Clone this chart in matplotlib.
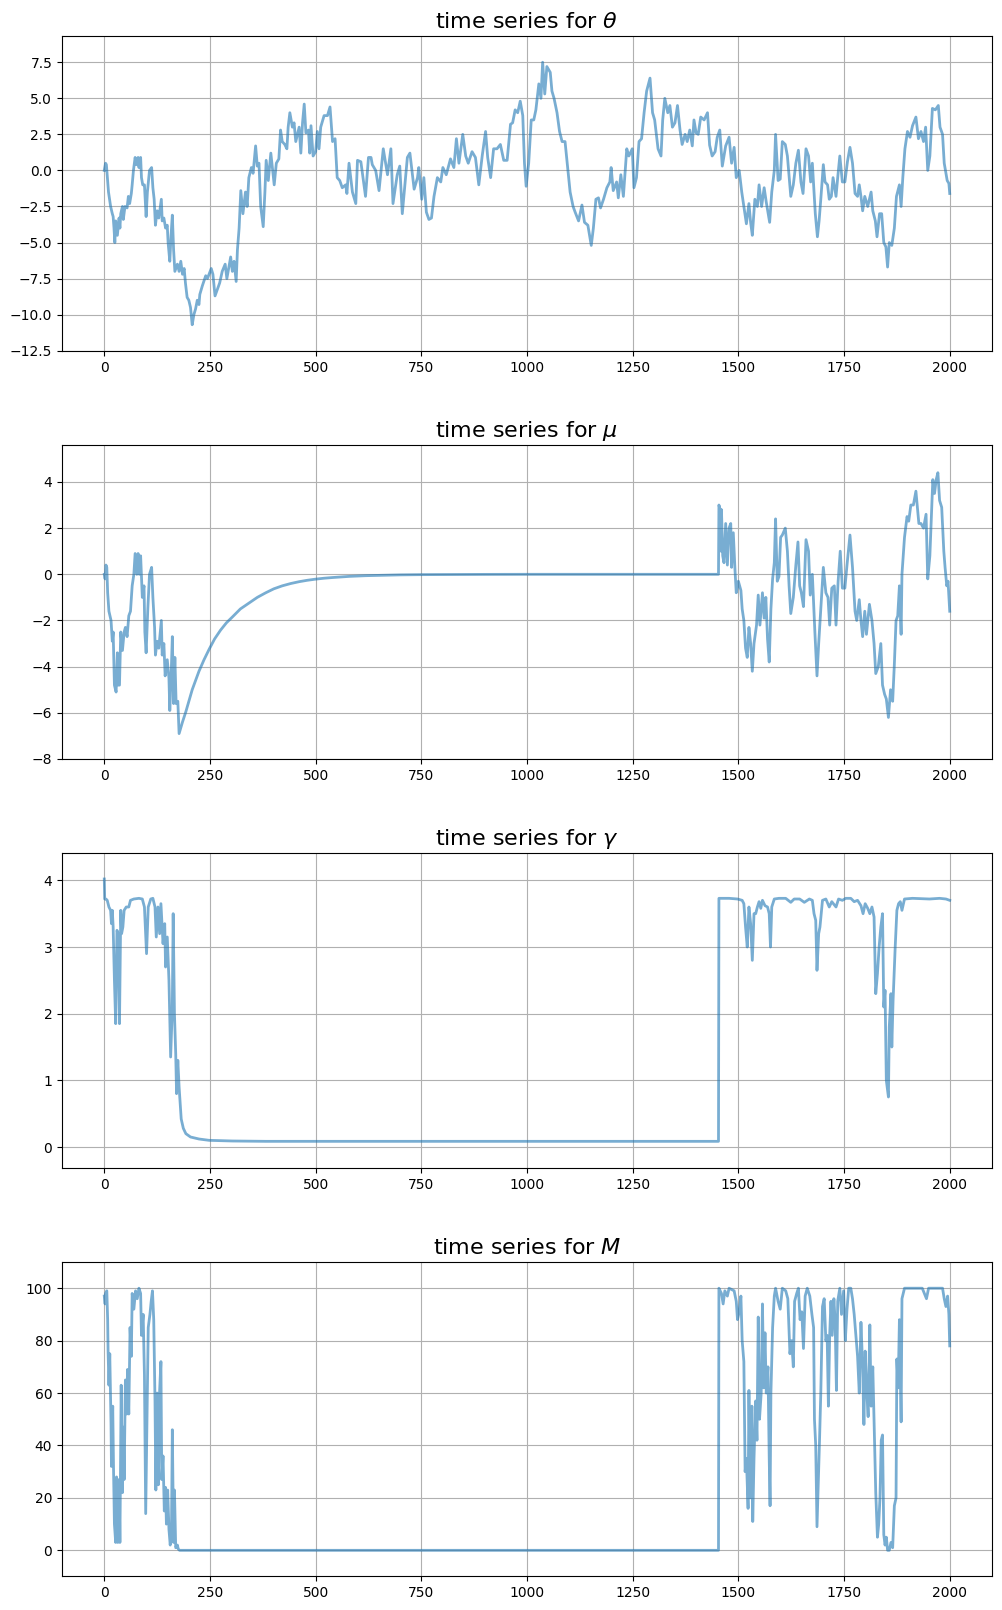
import numpy as np
import matplotlib
matplotlib.use("Agg")
import matplotlib.pyplot as plt

# %% values, as (step, value) pairs
theta_pts = [
    (0, 0), (3, 0.5), (5, 0.4), (10, -1.5), (15, -2.5), (19, -3.0), (21, -3.2), (23, -4.0),
    (25, -5.0), (27, -3.5), (31, -4.5), (35, -3.3), (37, -4.0), (39, -3.0), (43, -2.5),
    (45, -3.4), (49, -2.5), (54, -2.6), (57, -1.8), (60, -2.3), (64, -1.6), (66, -1.0),
    (69, 0.0), (73, 0.9), (76, 0.4), (80, 0.9), (82, 0.2), (86, 0.9), (88, -0.5), (91, -1.0),
    (95, -1.0), (99, -3.2), (102, -1.5), (107, 0.0), (112, 0.2), (115, -1.2), (118, -2.0),
    (121, -3.8), (125, -2.8), (129, -3.3), (135, -2.0), (137, -3.5), (141, -3.3), (145, -4.0),
    (149, -3.8), (151, -5.0), (155, -6.3), (158, -4.5), (161, -3.1), (164, -5.5), (167, -7.0),
    (173, -6.5), (177, -7.0), (181, -6.3), (185, -7.2), (189, -6.8), (192, -7.8), (196, -8.8),
    (200, -9.0), (204, -9.5), (208, -10.7), (212, -10.0), (216, -9.6), (220, -9.0), (224, -9.3),
    (226, -8.6), (232, -8.0), (240, -7.3), (244, -7.5), (253, -6.8), (257, -7.2), (262, -8.7),
    (268, -8.2), (273, -7.8), (279, -7.0), (286, -6.5), (290, -7.5), (299, -6.0), (303, -7.0),
    (307, -6.3), (312, -7.7), (315, -5.5), (319, -4.0), (323, -1.4), (328, -3.0), (334, -1.5),
    (338, -2.5), (342, -0.5), (348, 0.2), (352, -0.2), (358, 1.7), (362, 0.3), (366, 0.5),
    (370, -2.5), (376, -3.9), (380, -1.5), (383, 0.7), (388, -0.7), (394, 1.2), (402, -1.0),
    (407, 0.5), (413, 0.8), (417, 2.8), (421, 2.0), (427, 1.8), (432, 1.5), (435, 3.0),
    (439, 4.0), (445, 3.0), (449, 3.3), (453, 2.0), (461, 3.0), (465, 1.2), (469, 3.3),
    (473, 4.6), (477, 2.6), (483, 2.8), (486, 1.2), (489, 3.1), (494, 1.0), (500, 1.3),
    (504, 2.7), (508, 1.5), (512, 3.0), (520, 3.8), (528, 3.8), (534, 4.4), (540, 2.0),
    (546, 2.2), (551, -0.5), (557, -0.7), (563, -1.2), (571, -1.0), (574, -1.6), (579, 0.5),
    (587, -1.5), (595, -2.3), (599, 0.7), (607, 0.6), (618, -1.8), (625, 0.9), (631, 0.9),
    (634, 0.4), (642, 0.0), (650, -1.4), (660, 1.5), (670, -0.3), (678, 1.5), (683, -2.3),
    (693, -0.3), (699, 0.3), (705, -3.0), (717, 0.9), (723, 1.2), (733, -1.3), (741, -0.5),
    (744, 0.2), (751, -2.0), (756, -0.5), (762, -2.9), (768, -3.4), (774, -3.3), (780, -1.8),
    (788, -0.5), (796, -0.8), (801, 0.2), (809, -0.3), (819, 0.8), (827, 0.2), (833, 2.2),
    (839, 0.5), (848, 2.5), (855, 1.0), (861, 0.5), (870, 1.3), (878, 0.9), (886, -1.0),
    (894, 1.0), (902, 2.7), (907, 0.9), (914, -0.5), (921, 1.5), (929, 1.5), (937, 1.8),
    (945, 0.7), (953, 0.7), (961, 3.2), (966, 3.3), (972, 4.2), (978, 4.0), (984, 4.8),
    (990, 3.8), (994, 0.5), (998, -1.1), (1004, 0.5), (1010, 3.5), (1016, 3.5), (1021, 4.2),
    (1028, 6.0), (1033, 5.0), (1037, 7.5), (1042, 5.3), (1047, 7.2), (1055, 6.8), (1059, 5.5),
    (1064, 5.0), (1071, 4.0), (1077, 2.7), (1083, 2.0), (1090, 2.0), (1097, 0.0), (1102, -1.5),
    (1109, -2.5), (1114, -2.9), (1122, -3.5), (1130, -2.4), (1136, -3.6), (1144, -3.8),
    (1152, -5.2), (1157, -4.0), (1163, -2.0), (1169, -1.9), (1174, -2.6), (1181, -2.0),
    (1189, -1.2), (1196, -0.8), (1199, 0.2), (1204, -1.4), (1212, -0.8), (1216, -1.9),
    (1222, -0.3), (1228, -1.8), (1236, 1.5), (1241, 1.0), (1249, 1.5), (1253, -1.2),
    (1259, -0.5), (1265, 2.0), (1271, 2.2), (1277, 4.0), (1283, 5.5), (1291, 6.4), (1297, 4.0),
    (1302, 3.5), (1306, 2.5), (1310, 1.5), (1317, 1.0), (1321, 3.5), (1326, 5.0), (1333, 4.0),
    (1338, 4.5), (1344, 3.0), (1350, 3.3), (1356, 4.5), (1362, 2.8), (1367, 1.8), (1374, 2.5),
    (1379, 2.0), (1385, 2.8), (1391, 1.7), (1395, 3.5), (1400, 2.6), (1405, 2.5), (1411, 3.7),
    (1419, 3.5), (1427, 4.0), (1432, 1.75), (1438, 1.0), (1445, 1.3), (1450, 2.3), (1456, 2.8),
    (1462, 0.3), (1470, 1.7), (1478, 2.3), (1484, 0.5), (1490, 1.6), (1495, -0.5), (1502, 0.0),
    (1508, -1.5), (1513, -2.5), (1519, -3.7), (1525, -2.3), (1529, -3.6), (1533, -4.5),
    (1539, -2.0), (1545, -2.5), (1549, -1.0), (1555, -2.5), (1561, -1.2), (1566, -2.2),
    (1574, -3.6), (1579, -1.5), (1585, 0.0), (1588, 2.5), (1594, -0.7), (1599, -0.6),
    (1604, 2.0), (1611, 1.8), (1616, 1.0), (1624, -1.8), (1630, -1.0), (1636, 0.5), (1642, 1.4),
    (1648, -0.8), (1653, -1.6), (1660, 1.5), (1666, 1.0), (1671, -0.8), (1675, 0.5),
    (1682, -3.0), (1687, -4.6), (1691, -3.5), (1695, -2.0), (1701, 0.4), (1705, -0.8),
    (1711, -1.0), (1715, -2.0), (1720, -1.8), (1724, -0.5), (1731, -1.8), (1735, -0.5),
    (1740, 1.0), (1746, -0.8), (1752, -0.8), (1758, 0.6), (1764, 1.6), (1770, 0.5),
    (1776, -1.6), (1782, -1.8), (1786, -1.0), (1790, -1.8), (1794, -2.8), (1799, -1.8),
    (1806, -2.5), (1814, -1.5), (1818, -2.8), (1824, -3.5), (1828, -4.6), (1834, -3.0),
    (1839, -3.0), (1844, -5.0), (1849, -5.3), (1853, -6.7), (1857, -5.0), (1863, -5.2),
    (1869, -4.0), (1874, -1.8), (1881, -1.0), (1885, -2.5), (1889, -0.5), (1894, 1.5),
    (1900, 2.7), (1906, 2.3), (1912, 3.1), (1920, 3.7), (1926, 2.2), (1932, 2.7), (1938, 2.0),
    (1943, 3.0), (1948, 0.0), (1953, 1.0), (1959, 4.3), (1966, 4.2), (1973, 4.5), (1977, 3.0),
    (1983, 2.5), (1987, 0.5), (1994, -0.7), (1998, -0.9), (2000, -1.6),
]

mu_pts = [
    (0, 0), (2, -0.2), (4, 0.4), (6, 0.3), (8, -0.8), (11, -1.6), (16, -2.0), (19, -2.9),
    (21, -2.5), (24, -4.8), (28, -5.1), (31, -3.4), (33, -4.8), (36, -4.8), (39, -2.5),
    (43, -3.3), (47, -2.5), (50, -2.3), (54, -2.7), (58, -1.8), (62, -1.6), (66, -0.5),
    (70, 0.0), (73, 0.9), (77, 0.0), (80, 0.9), (83, 0.0), (86, 0.8), (90, -1.0), (94, -0.5),
    (96, -2.5), (99, -3.4), (103, -1.5), (107, 0.0), (112, 0.3), (115, -1.0), (119, -2.3),
    (121, -3.5), (125, -2.9), (129, -3.2), (135, -2.0), (137, -3.5), (141, -3.0), (144, -4.4),
    (149, -3.7), (153, -4.5), (155, -5.9), (158, -4.5), (161, -2.7), (164, -5.6), (167, -3.6),
    (170, -5.6), (174, -5.5), (177, -6.9),
    (185, -6.4), (193, -5.95), (200, -5.5), (208, -5.0), (216, -4.6), (224, -4.2), (236, -3.7),
    (248, -3.25), (261, -2.8), (275, -2.42), (289, -2.1), (303, -1.85), (322, -1.5),
    (342, -1.25), (362, -1.0), (382, -0.8), (401, -0.63), (421, -0.5), (441, -0.4),
    (461, -0.32), (480, -0.26), (500, -0.21), (520, -0.17), (540, -0.14), (580, -0.09),
    (619, -0.06), (660, -0.04), (700, -0.025), (750, -0.015), (800, -0.01), (900, -0.004),
    (1000, 0.0), (1453, 0.0),
    (1454, 3.0), (1457, 2.8), (1459, 1.0), (1460, 2.8), (1463, 0.8), (1466, 0.5), (1470, 2.2),
    (1474, 0.4), (1478, 2.0), (1482, 2.2), (1484, 0.3), (1488, 1.8), (1492, 0.2), (1495, -0.8),
    (1500, -0.3), (1506, -0.7), (1509, -1.5), (1513, -2.0), (1517, -3.2), (1521, -3.6),
    (1525, -2.3), (1529, -3.0), (1533, -4.2), (1537, -3.0), (1543, -2.2), (1547, -0.9),
    (1551, -2.2), (1557, -0.8), (1561, -1.9), (1565, -1.0), (1569, -2.8), (1573, -3.8),
    (1577, -1.5), (1581, -0.2), (1585, 0.5), (1588, 2.4), (1592, -0.3), (1596, -0.1),
    (1600, 1.6), (1604, 1.7), (1611, 2.0), (1616, 1.0), (1620, -0.5), (1624, -1.7),
    (1630, -1.0), (1636, 0.4), (1641, 1.4), (1645, -0.5), (1649, -0.8), (1654, -1.4),
    (1660, 1.5), (1666, 1.0), (1670, -0.9), (1675, 0.0), (1681, -2.5), (1686, -4.4),
    (1690, -3.0), (1695, -1.5), (1701, 0.3), (1707, -0.8), (1712, -1.0), (1716, -2.2),
    (1721, -0.6), (1727, -0.5), (1731, -2.2), (1736, -0.3), (1741, 1.0), (1746, -0.6),
    (1752, -0.6), (1757, 0.4), (1764, 1.7), (1770, 0.3), (1776, -1.6), (1780, -2.0),
    (1786, -1.1), (1790, -2.0), (1794, -2.7), (1799, -1.6), (1803, -2.6), (1810, -1.3),
    (1816, -2.0), (1821, -3.0), (1825, -4.3), (1831, -4.0), (1837, -3.0), (1841, -4.8),
    (1846, -5.2), (1850, -5.4), (1855, -6.2), (1860, -5.0), (1865, -5.5), (1869, -3.9),
    (1873, -2.0), (1877, -1.8), (1881, -0.5), (1885, -2.6), (1887, 0.0), (1893, 1.6),
    (1899, 2.5), (1903, 2.3), (1908, 3.0), (1914, 3.0), (1920, 3.6), (1927, 2.2), (1932, 2.2),
    (1938, 2.0), (1944, 2.6), (1948, -0.2), (1953, 0.8), (1960, 4.1), (1964, 3.5), (1968, 4.1),
    (1972, 4.4), (1976, 3.2), (1981, 2.9), (1986, 1.0), (1989, 0.3), (1993, -0.5),
    (1996, -0.3), (2000, -1.6),
]

gamma_pts = [
    (0, 4.02), (1, 3.72), (4, 3.72), (7, 3.7), (11, 3.6), (15, 3.55), (17, 3.35), (19, 3.55),
    (21, 3.3), (24, 2.5), (27, 1.85), (30, 3.25), (33, 3.2), (36, 1.85), (39, 3.55), (41, 3.2),
    (44, 3.3), (47, 3.55), (52, 3.6), (58, 3.6), (62, 3.7), (70, 3.72), (82, 3.73), (90, 3.72),
    (95, 3.6), (100, 2.9), (104, 3.6), (110, 3.72), (115, 3.73), (120, 3.6), (123, 3.15),
    (127, 3.6), (131, 3.2), (134, 3.65), (139, 3.05), (143, 3.35), (145, 2.7), (149, 3.15),
    (153, 2.5), (157, 1.35), (161, 2.1), (163, 3.5), (166, 2.0), (169, 1.4), (171, 0.8),
    (174, 1.3), (177, 0.9), (179, 0.7), (182, 0.42), (187, 0.28), (193, 0.2), (204, 0.15),
    (224, 0.12), (248, 0.1), (303, 0.09), (382, 0.085), (1453, 0.085),
    (1454, 3.73), (1478, 3.73), (1498, 3.72), (1509, 3.7), (1513, 3.65), (1517, 3.3),
    (1521, 3.0), (1525, 3.6), (1529, 3.35), (1533, 2.8), (1537, 3.5), (1541, 3.5), (1545, 3.6),
    (1549, 3.68), (1553, 3.58), (1557, 3.7), (1563, 3.62), (1569, 3.6), (1573, 3.5),
    (1576, 3.0), (1579, 3.6), (1585, 3.72), (1596, 3.73), (1612, 3.73), (1624, 3.67),
    (1632, 3.72), (1645, 3.72), (1656, 3.67), (1668, 3.72), (1675, 3.7), (1679, 3.5),
    (1683, 3.4), (1686, 2.65), (1690, 3.2), (1693, 3.3), (1699, 3.7), (1707, 3.72), (1715, 3.6),
    (1721, 3.68), (1731, 3.6), (1737, 3.72), (1746, 3.7), (1754, 3.73), (1766, 3.73),
    (1774, 3.68), (1782, 3.7), (1790, 3.62), (1795, 3.5), (1800, 3.65), (1806, 3.58),
    (1811, 3.5), (1816, 3.6), (1821, 3.45), (1825, 2.3), (1829, 2.6), (1833, 3.0), (1837, 3.3),
    (1841, 3.5), (1844, 2.1), (1847, 2.35), (1850, 1.0), (1855, 0.75), (1857, 1.8), (1861, 2.3),
    (1863, 1.5), (1866, 2.2), (1871, 3.0), (1875, 3.55), (1879, 3.65), (1883, 3.68),
    (1887, 3.55), (1893, 3.72), (1912, 3.73), (1952, 3.72), (1976, 3.73), (1991, 3.72),
    (2000, 3.7),
]

m_pts = [
    (0, 97), (2, 94), (3, 98), (6, 99), (8, 88), (9, 76), (11, 63), (13, 75), (16, 48), (17, 32),
    (20, 55), (22, 30), (24, 10), (27, 3), (29, 28), (32, 3), (35, 27), (37, 3), (40, 63),
    (43, 22), (45, 47), (47, 27), (50, 65), (53, 52), (55, 69), (58, 52), (61, 85), (64, 74),
    (66, 98), (70, 92), (74, 99), (78, 96), (82, 100), (86, 98), (88, 82), (92, 90), (95, 67),
    (98, 14), (101, 50), (104, 85), (108, 90), (111, 95), (114, 99), (117, 88), (120, 57),
    (122, 23), (125, 60), (128, 25), (131, 61), (134, 72), (136, 27), (139, 36), (142, 15),
    (145, 24), (147, 10), (150, 23), (153, 8), (156, 2), (159, 8), (161, 46), (164, 3),
    (166, 23), (169, 1), (173, 2), (175, 0.5), (178, 0), (1453, 0),
    (1454, 100), (1460, 98), (1464, 94), (1468, 99), (1474, 97), (1478, 100), (1490, 99),
    (1495, 95), (1498, 88), (1502, 91), (1506, 97), (1509, 80), (1513, 72), (1516, 30),
    (1519, 35), (1523, 16), (1525, 61), (1528, 20), (1532, 55), (1534, 11), (1537, 35),
    (1541, 57), (1544, 42), (1547, 89), (1550, 50), (1554, 60), (1557, 94), (1560, 62),
    (1563, 83), (1566, 60), (1570, 70), (1573, 35), (1575, 17), (1577, 60), (1581, 85),
    (1585, 97), (1588, 100), (1594, 95), (1599, 92), (1604, 100), (1612, 99), (1617, 96),
    (1622, 75), (1626, 80), (1630, 70), (1633, 95), (1638, 98), (1642, 100), (1646, 88),
    (1650, 91), (1654, 77), (1658, 97), (1663, 100), (1669, 97), (1674, 90), (1678, 85),
    (1680, 50), (1683, 40), (1686, 9), (1689, 25), (1692, 42), (1695, 60), (1699, 93),
    (1703, 96), (1707, 80), (1710, 82), (1713, 55), (1716, 82), (1719, 95), (1722, 82),
    (1726, 96), (1729, 87), (1732, 61), (1735, 95), (1740, 100), (1744, 90), (1749, 99),
    (1753, 80), (1757, 92), (1761, 100), (1766, 100), (1770, 96), (1774, 90), (1778, 82),
    (1782, 74), (1786, 60), (1790, 87), (1794, 70), (1797, 48), (1800, 76), (1804, 60),
    (1807, 51), (1811, 86), (1814, 55), (1818, 70), (1821, 50), (1825, 22), (1829, 5),
    (1832, 10), (1835, 20), (1838, 42), (1841, 44), (1844, 6), (1847, 2), (1850, 5), (1853, 0),
    (1857, 0), (1861, 3), (1865, 1), (1869, 17), (1873, 20), (1875, 73), (1878, 62), (1881, 88),
    (1885, 49), (1887, 96), (1893, 100), (1912, 100), (1935, 100), (1945, 96), (1950, 100),
    (1983, 100), (1987, 96), (1991, 93), (1995, 97), (1998, 90), (2000, 78),
]

titles = [r'time series for $\theta$', r'time series for $\mu$',
          r'time series for $\gamma$', r'time series for $M$']
series = [theta_pts, mu_pts, gamma_pts, m_pts]
y_limits = [(-12.52, 9.32), (-8.0, 5.6), (-0.315, 4.41), (-9.8, 110.0)]

# %% plot
W, H = 1002, 1610
fig = plt.figure(figsize=(W / 100, H / 100), dpi=100)

# axes boxes in pixels: (left, top, right, bottom)
tops = [36, 445, 853, 1262]
bottoms = [351, 759, 1168, 1576]
left, right = 62, 992

for k in range(4):
    ax = fig.add_axes([left / W, 1 - bottoms[k] / H,
                       (right - left) / W, (bottoms[k] - tops[k]) / H])
    t, v = np.array(series[k], dtype=float).T
    ax.plot(t, v, color='C0', alpha=0.6, linewidth=2)
    ax.set_xlim(-100, 2100)
    ax.set_ylim(*y_limits[k])
    ax.set_title(titles[k], fontsize=16)
    ax.grid(True)

fig.savefig('out.png', dpi=100)
